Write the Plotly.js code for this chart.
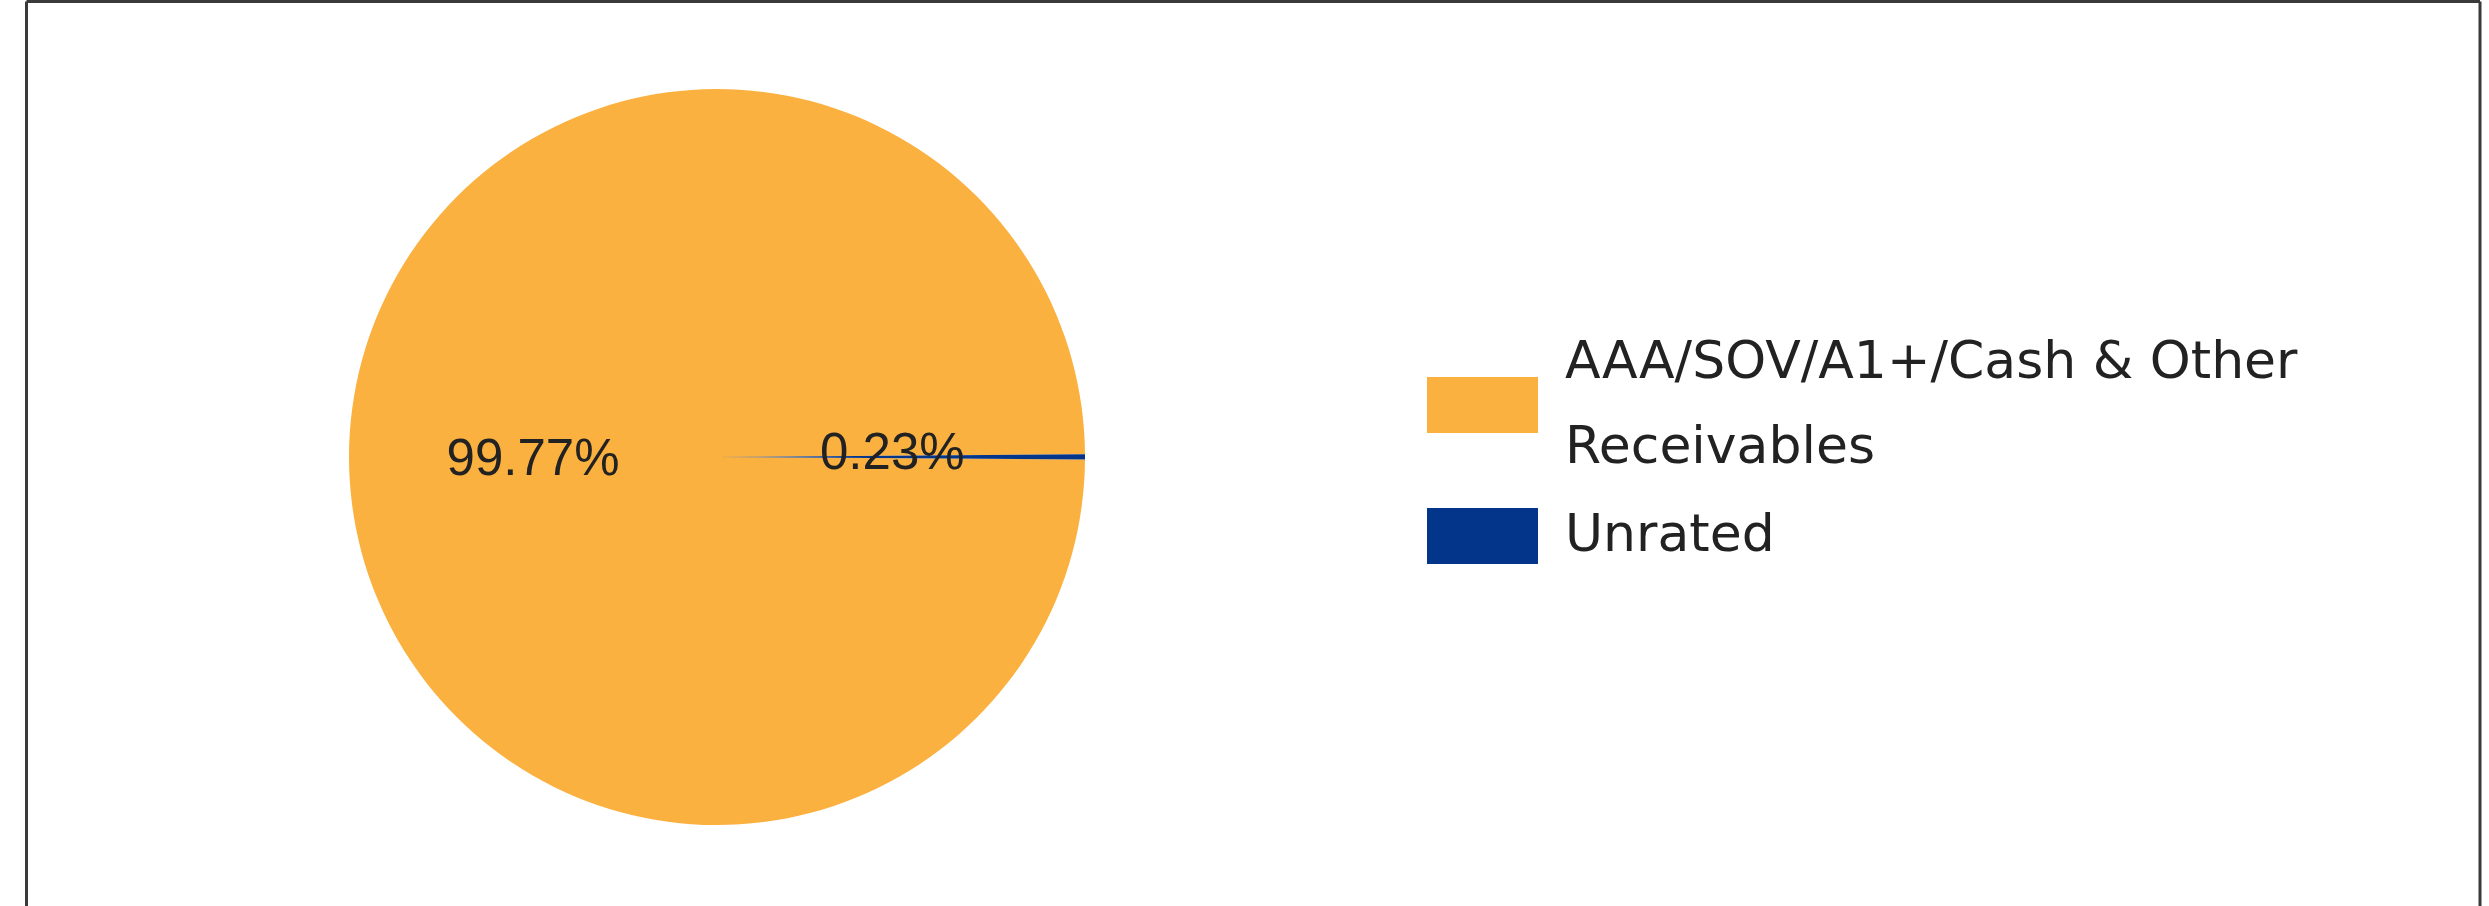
<!DOCTYPE html>
<html>
<head>
<meta charset="utf-8">
<script src="https://cdn.plot.ly/plotly-3.0.1.min.js"></script>
<style>
  html, body { margin: 0; padding: 0; background: #ffffff; }
  #chart { width: 2489px; height: 906px; }
</style>
</head>
<body>
<div id="chart"></div>
<script>
// ---- data ----
const categories = ['AAA/SOV/A1+/Cash & Other<br>Receivables', 'Unrated'];
const shares = [99.77, 0.23];
const sliceColors = ['#FBB13F', '#03358A'];

// ---- style ----
const labelFont = { family: 'Liberation Sans, Arial, sans-serif', size: 51, color: '#222222' };
const legendFont = { family: 'DejaVu Sans, sans-serif', size: 52, color: '#222222' };
const W = 2489, H = 906;
const cx = 717, cy = 457, r = 368;

const trace = {
  type: 'pie',
  labels: categories,
  values: shares,
  sort: false,
  direction: 'clockwise',
  rotation: 90.4,
  marker: { colors: sliceColors, line: { width: 0 } },
  texttemplate: ['%{percent:.2%}', ''],
  textposition: ['inside', 'none'],
  insidetextorientation: 'horizontal',
  insidetextfont: labelFont,
  hoverinfo: 'label+percent',
  domain: {
    x: [(cx - r) / W, (cx + r) / W],
    y: [1 - (cy + r) / H, 1 - (cy - r) / H]
  },
  showlegend: true
};

const layout = {
  width: W,
  height: H,
  margin: { l: 0, r: 0, t: 0, b: 0 },
  paper_bgcolor: '#ffffff',
  plot_bgcolor: '#ffffff',
  showlegend: true,
  legend: {
    x: 1400 / W, xanchor: 'left',
    y: 1 - 330 / H, yanchor: 'top',
    font: legendFont,
    itemwidth: 155,
    bgcolor: 'rgba(0,0,0,0)',
    traceorder: 'normal'
  },
  annotations: [{
    xref: 'paper', yref: 'paper',
    x: 892 / W, y: 1 - 451 / H,
    xanchor: 'center', yanchor: 'middle',
    text: shares[1].toFixed(2) + '%',
    showarrow: false,
    font: labelFont
  }],
  shapes: [
    { type: 'line', xref: 'paper', yref: 'paper', x0: 26.5 / W, x1: 26.5 / W, y0: -0.05, y1: 1 - 1.5 / H, line: { color: '#3a3a3a', width: 3 } },
    { type: 'line', xref: 'paper', yref: 'paper', x0: 26.5 / W, x1: 2480 / W, y0: 1 - 1.5 / H, y1: 1 - 1.5 / H, line: { color: '#3a3a3a', width: 3 } },
    { type: 'line', xref: 'paper', yref: 'paper', x0: 2480 / W, x1: 2480 / W, y0: -0.05, y1: 1 - 1.5 / H, line: { color: '#3a3a3a', width: 3 } }
  ]
};

Plotly.newPlot('chart', [trace], layout, { displayModeBar: false, staticPlot: true }).then(function (gd) {
  // enlarge legend swatches and place legend items like the reference
  const sb = gd.querySelector('.legend .scrollbox');
  if (sb) sb.removeAttribute('clip-path');
  const targets = [[1482.5, 405], [1482.5, 536]];
  const lh = legendFont.size * 1.3;
  const groups = gd.querySelectorAll('.legend .traces');
  groups.forEach(function (g, i) {
    const p = g.querySelector('path.legendpie');
    if (!p) return;
    p.setAttribute('d', 'M55.5,28H-55.5V-28H55.5Z');
    const t = g.querySelector('text.legendtext');
    const lines = g.querySelectorAll('text.legendtext tspan.line');
    let shift = -5;
    if (lines.length > 1) {
      lines[1].setAttribute('dy', '85');
      shift += -(85 - lh) / 2;
    }
    if (t) t.setAttribute('transform', 'translate(0,' + shift + ')');
    const b = p.getBoundingClientRect();
    const dx = targets[i][0] - (b.left + b.width / 2);
    const dy = targets[i][1] - (b.top + b.height / 2);
    const tr = g.getAttribute('transform') || '';
    g.setAttribute('transform', tr + ' translate(' + dx + ',' + dy + ')');
  });
});
</script>
</body>
</html>
